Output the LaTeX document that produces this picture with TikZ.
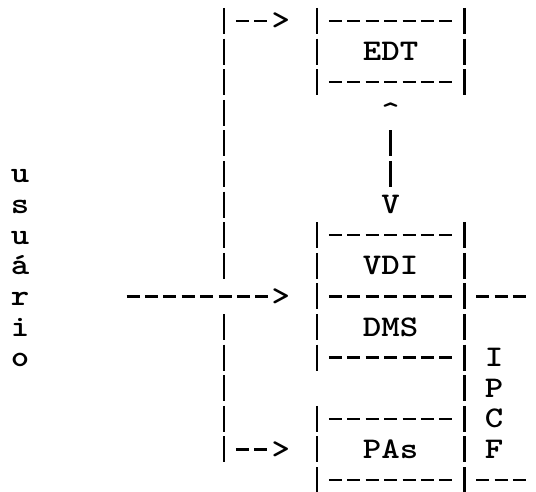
\documentclass[tikz,border=0pt]{standalone}
\usepackage{fontspec}
\usepackage{graphicx}
\tikzset{
  ascii/.style={font=\ttfamily\bfseries\fontsize{30}{30}\selectfont, inner sep=0pt, anchor=base},
  dashrow/.style={line width=2.6pt, dash pattern=on 13pt off 5.4pt},
  barcol/.style={line width=2.6pt, dash pattern=on 26pt off 4.6pt},
}
\newcommand\rowy[1]{21+30.6*#1}
\newcommand\asciidash[3]{\draw[dashrow] ({#1-6.5},{\rowy{#3}}) -- ({#1+(#2-1)*18.4+6.5},{\rowy{#3}});}
\newcommand\asciibar[3]{\draw[barcol] (#1,{\rowy{#2}-13}) -- (#1,{\rowy{#3}+13});}
\newcommand\wide[1]{\scalebox{1.17}[1]{#1}}
\begin{document}
\begin{tikzpicture}[x=1pt,y=-1pt]
\useasboundingbox (0,0) rectangle (536,492);
% left distribution column
\asciibar{224}{0}{8}
\asciibar{224}{10}{14}
% EDT box
\asciibar{317}{0}{2}
\asciibar{464.2}{0}{2}
\asciidash{335.4}{7}{0}
\asciidash{335.4}{7}{2}
% EDT <-> VDI link
\asciibar{390.6}{4}{5}
% VDI / DMS box
\asciibar{317}{7}{11}
\asciidash{335.4}{7}{7}
\asciidash{335.4}{7}{9}
\asciidash{335.4}{7}{11}
% PAs box
\asciibar{317}{13}{15}
\asciidash{335.4}{7}{13}
\asciidash{335.4}{7}{15}
% IPCF column
\asciibar{464.2}{7}{15}
\asciidash{482.6}{3}{9}
\asciidash{482.6}{3}{15}
% arrows from the left column
\asciidash{242.4}{2}{0}
\asciidash{133}{8}{9}
\asciidash{242.4}{2}{14}
\node[ascii] (arrtop) at (280.8,{\rowy{0}+9}) {\wide{>}};
\node[ascii] (arrmid) at (280.8,{\rowy{9}+9}) {\wide{>}};
\node[ascii] (arrbot) at (280.8,{\rowy{14}+9}) {\wide{>}};
% labels
\node[ascii] (edt) at (390.6,{\rowy{1}+9}) {\wide{EDT}};
\node[ascii] (caret) at (390.6,{\rowy{3}+9}) {\wide{\string^}};
\node[ascii] (vee) at (390.6,{\rowy{6}+9}) {\wide{V}};
\node[ascii] (vdi) at (390.6,{\rowy{8}+9}) {\wide{VDI}};
\node[ascii] (dms) at (390.6,{\rowy{10}+9}) {\wide{DMS}};
\node[ascii] (pas) at (390.6,{\rowy{14}+9}) {\wide{PAs}};
% IPCF vertical label
\node[ascii] (ipcf1) at (494,{\rowy{11}+9}) {\wide{I}};
\node[ascii] (ipcf2) at (494,{\rowy{12}+9}) {\wide{P}};
\node[ascii] (ipcf3) at (494,{\rowy{13}+9}) {\wide{C}};
\node[ascii] (ipcf4) at (494,{\rowy{14}+9}) {\wide{F}};
% usuário vertical label
\node[ascii] (us1) at (20,{\rowy{5}+9}) {\wide{u}};
\node[ascii] (us2) at (20,{\rowy{6}+9}) {\wide{s}};
\node[ascii] (us3) at (20,{\rowy{7}+9}) {\wide{u}};
\node[ascii] (us4) at (20,{\rowy{8}+9}) {\wide{á}};
\node[ascii] (us5) at (20,{\rowy{9}+9}) {\wide{r}};
\node[ascii] (us6) at (20,{\rowy{10}+9}) {\wide{i}};
\node[ascii] (us7) at (20,{\rowy{11}+9}) {\wide{o}};
\end{tikzpicture}
\end{document}
